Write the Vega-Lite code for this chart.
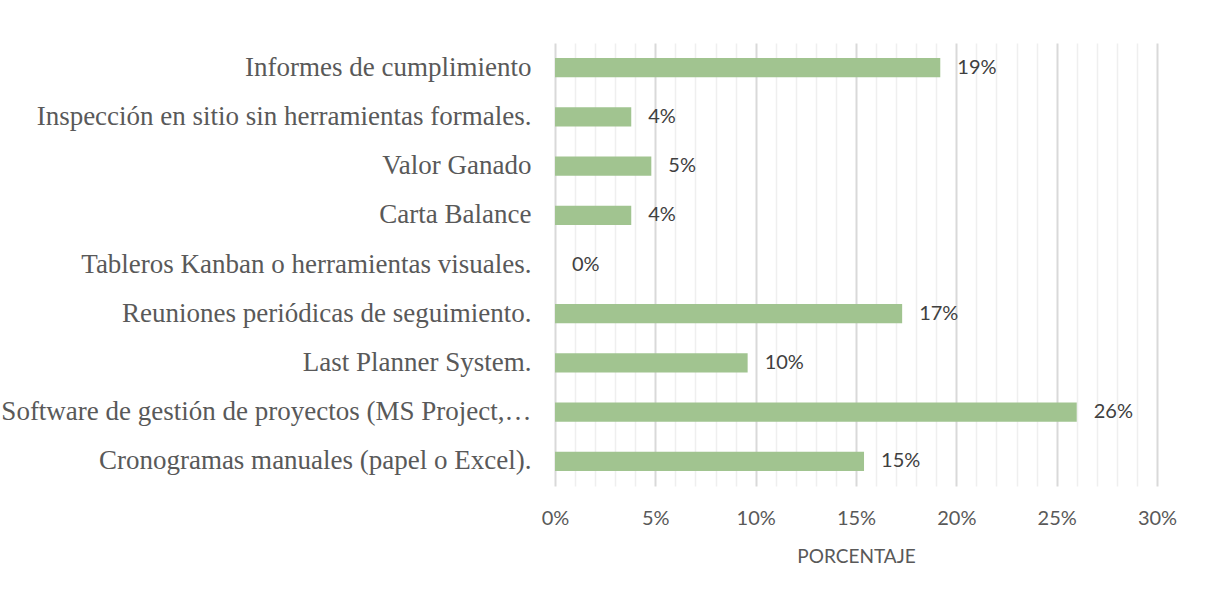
{
  "$schema": "https://vega.github.io/schema/vega-lite/v6.json",
  "width": 602,
  "height": 443,
  "padding": {"left": 0, "top": 43, "right": 5, "bottom": 5},
  "background": "white",
  "config": {"view": {"stroke": null}},
  "data": {
    "values": [
      {"cat": "Informes de cumplimiento", "pct": 0.192},
      {"cat": "Inspección en sitio sin herramientas formales.", "pct": 0.038},
      {"cat": "Valor Ganado", "pct": 0.048},
      {"cat": "Carta Balance", "pct": 0.038},
      {"cat": "Tableros Kanban o herramientas visuales.", "pct": 0.0},
      {"cat": "Reuniones periódicas de seguimiento.", "pct": 0.173},
      {"cat": "Last Planner System.", "pct": 0.096},
      {"cat": "Software de gestión de proyectos (MS Project,…", "pct": 0.26},
      {"cat": "Cronogramas manuales (papel o Excel).", "pct": 0.154}
    ]
  },
  "encoding": {
    "y": {
      "field": "cat",
      "type": "nominal",
      "sort": null,
      "title": null,
      "scale": {"paddingInner": 0.61, "paddingOuter": 0.305},
      "axis": {
        "domain": false,
        "ticks": false,
        "grid": false,
        "labelFont": "Liberation Serif",
        "labelFontSize": 27,
        "labelColor": "#595959",
        "labelPadding": 24,
        "labelLimit": 700
      }
    },
    "x": {
      "field": "pct",
      "type": "quantitative",
      "scale": {"domain": [0, 0.3], "nice": false},
      "title": "PORCENTAJE",
      "axis": {
        "values": [0,0.01,0.02,0.03,0.04,0.05,0.06,0.07,0.08,0.09,0.1,0.11,0.12,0.13,0.14,0.15,0.16,0.17,0.18,0.19,0.2,0.21,0.22,0.23,0.24,0.25,0.26,0.27,0.28,0.29,0.3],
        "labelExpr": "round(datum.value*100) % 5 === 0 ? format(datum.value, '.0%') : ''",
        "labelOverlap": false,
        "labelFlush": false,
        "domain": false,
        "ticks": false,
        "grid": true,
        "gridColor": {"condition": {"test": "round(datum.value*100) % 5 === 0", "value": "#d9d9d9"}, "value": "#efefef"},
        "gridWidth": {"condition": {"test": "round(datum.value*100) % 5 === 0", "value": 2}, "value": 1.5},
        "labelFont": "Lato",
        "labelFontSize": 20,
        "labelColor": "#595959",
        "labelPadding": 22,
        "titleFont": "Lato",
        "titleFontSize": 19,
        "titleFontWeight": "normal",
        "titleColor": "#595959",
        "titlePadding": 19
      }
    }
  },
  "layer": [
    {
      "mark": {"type": "bar", "color": "#a1c490"}
    },
    {
      "mark": {"type": "text", "align": "left", "baseline": "middle", "dx": 17, "font": "Lato", "fontSize": 20, "color": "#404040"},
      "encoding": {
        "text": {"field": "pct", "type": "quantitative", "format": ".0%"}
      }
    }
  ]
}
